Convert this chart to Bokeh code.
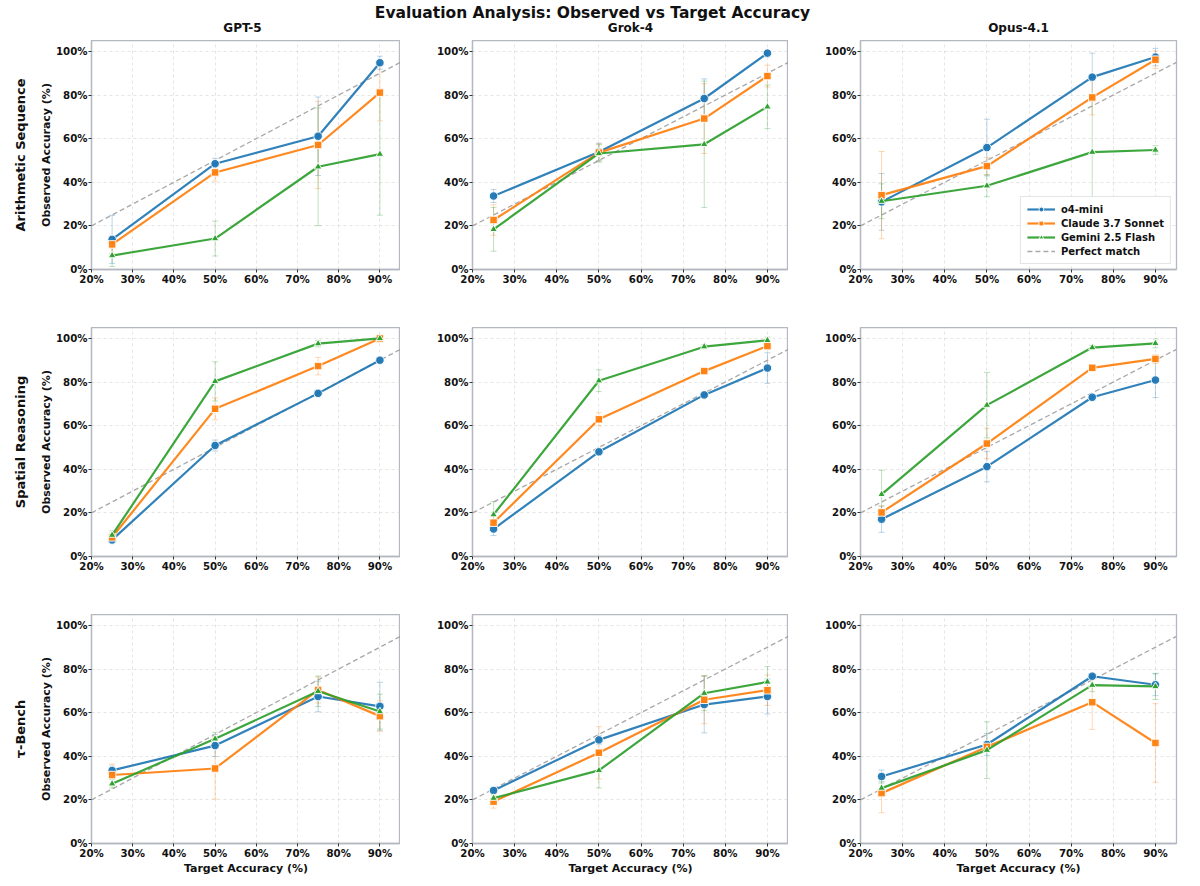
from bokeh.plotting import figure
from bokeh.models import (Range1d, FixedTicker, PrintfTickFormatter, Title, Legend,
                          LegendItem, ColumnDataSource, Whisker, TeeHead)
from bokeh.layouts import column, row
from bokeh.embed import file_html
from bokeh.resources import INLINE
from bokeh.core.properties import value

# ---------------- data (percent) ----------------
targets = [25, 50, 75, 90]
models = ["o4-mini", "Claude 3.7 Sonnet", "Gemini 2.5 Flash"]
tasks = ["Arithmetic Sequence", "Spatial Reasoning", "τ-Bench"]
judges = ["GPT-5", "Grok-4", "Opus-4.1"]
x_ticks = [20, 30, 40, 50, 60, 70, 80, 90]
y_ticks = [0, 20, 40, 60, 80, 100]

# Arithmetic Sequence
arith_gpt5 = {"o4-mini": [13.8, 48.5, 61.1, 94.8],
              "Claude 3.7 Sonnet": [11.5, 44.5, 57.1, 81.1],
              "Gemini 2.5 Flash": [6.4, 14.2, 47.1, 52.9]}
arith_gpt5_err = {"o4-mini": [11, 2.5, 18, 3],
                  "Claude 3.7 Sonnet": [4, 4, 20, 13],
                  "Gemini 2.5 Flash": [5, 8, 27, 28]}
arith_grok4 = {"o4-mini": [33.7, 53.9, 78.4, 99.2],
               "Claude 3.7 Sonnet": [22.7, 53.6, 69.2, 88.7],
               "Gemini 2.5 Flash": [18.4, 53.2, 57.4, 74.6]}
arith_grok4_err = {"o4-mini": [3, 4, 9, 1],
                   "Claude 3.7 Sonnet": [7, 4, 16, 5],
                   "Gemini 2.5 Flash": [10, 4, 29, 10]}
arith_opus = {"o4-mini": [31.0, 55.9, 88.2, 97.4],
              "Claude 3.7 Sonnet": [34.1, 47.4, 78.9, 96.2],
              "Gemini 2.5 Flash": [31.3, 38.4, 53.8, 54.8]}
arith_opus_err = {"o4-mini": [13, 13, 11, 4],
                  "Claude 3.7 Sonnet": [20, 4, 8, 4],
                  "Gemini 2.5 Flash": [8, 5, 24, 2]}

# Spatial Reasoning
spatial_gpt5 = {"o4-mini": [7.6, 50.9, 74.8, 90.0],
                "Claude 3.7 Sonnet": [8.8, 67.7, 87.3, 100.0],
                "Gemini 2.5 Flash": [9.8, 80.3, 97.6, 100.0]}
spatial_gpt5_err = {"o4-mini": [1.5, 2.5, 1, 1],
                    "Claude 3.7 Sonnet": [2, 5, 4, 0.5],
                    "Gemini 2.5 Flash": [2, 9, 1.5, 0.5]}
spatial_grok4 = {"o4-mini": [12.6, 48.0, 74.1, 86.4],
                 "Claude 3.7 Sonnet": [15.5, 62.9, 85.0, 96.5],
                 "Gemini 2.5 Flash": [19.2, 80.6, 96.2, 99.1]}
spatial_grok4_err = {"o4-mini": [3, 1.5, 1, 7],
                     "Claude 3.7 Sonnet": [3, 3, 1, 1.5],
                     "Gemini 2.5 Flash": [6, 5, 1, 1.5]}
spatial_opus = {"o4-mini": [17.1, 41.2, 73.0, 80.9],
                "Claude 3.7 Sonnet": [20.2, 51.8, 86.5, 90.6],
                "Gemini 2.5 Flash": [28.5, 69.4, 95.8, 97.7]}
spatial_opus_err = {"o4-mini": [6, 7, 1, 8],
                    "Claude 3.7 Sonnet": [3, 7, 1, 2],
                    "Gemini 2.5 Flash": [11, 15, 1, 2]}

# tau-Bench
tau_gpt5 = {"o4-mini": [33.5, 44.9, 67.4, 62.9],
            "Claude 3.7 Sonnet": [31.4, 34.4, 70.4, 58.4],
            "Gemini 2.5 Flash": [27.4, 48.0, 69.8, 60.5]}
tau_gpt5_err = {"o4-mini": [2, 5, 7, 11],
                "Claude 3.7 Sonnet": [5, 14, 6, 7],
                "Gemini 2.5 Flash": [2, 3, 7, 8]}
tau_grok4 = {"o4-mini": [24.3, 47.5, 63.7, 67.4],
             "Claude 3.7 Sonnet": [19.2, 41.6, 65.9, 70.3],
             "Gemini 2.5 Flash": [20.8, 33.5, 68.9, 74.1]}
tau_grok4_err = {"o4-mini": [1, 2, 13, 8],
                 "Claude 3.7 Sonnet": [3, 12, 11, 7],
                 "Gemini 2.5 Flash": [2, 8, 8, 7]}
tau_opus = {"o4-mini": [30.7, 45.4, 76.7, 72.8],
            "Claude 3.7 Sonnet": [23.1, 44.3, 64.8, 46.1],
            "Gemini 2.5 Flash": [25.4, 42.8, 72.6, 72.0]}
tau_opus_err = {"o4-mini": [3, 5, 1, 5],
                "Claude 3.7 Sonnet": [9, 2, 12.5, 18],
                "Gemini 2.5 Flash": [3, 13, 3, 6]}

panel_values = [[arith_gpt5, arith_grok4, arith_opus],
                [spatial_gpt5, spatial_grok4, spatial_opus],
                [tau_gpt5, tau_grok4, tau_opus]]
panel_errors = [[arith_gpt5_err, arith_grok4_err, arith_opus_err],
                [spatial_gpt5_err, spatial_grok4_err, spatial_opus_err],
                [tau_gpt5_err, tau_grok4_err, tau_opus_err]]

# ---------------- styling ----------------
FONT = "DejaVu Sans"
colors = {"o4-mini": "#1f77b4", "Claude 3.7 Sonnet": "#ff7f0e", "Gemini 2.5 Flash": "#2ca02c"}
markers = {"o4-mini": "circle", "Claude 3.7 Sonnet": "square", "Gemini 2.5 Flash": "triangle"}
msizes = {"o4-mini": 8.5, "Claude 3.7 Sonnet": 7.5, "Gemini 2.5 Flash": 7.5}
FRAME_COLOR = "#b4b8c0"

FRAME_W, FRAME_H = 316, 229
col_left = [84, 72, 72]
col_right = [0, 0, 8]
row_bottom = [58, 58, 35]
HEADER_H = 40


def make_panel(r, c):
    p = figure(width=col_left[c] + FRAME_W + col_right[c],
               height=FRAME_H + row_bottom[r],
               x_range=Range1d(20, 95), y_range=Range1d(0, 105),
               output_backend="svg", toolbar_location=None,
               min_border_left=col_left[c], min_border_right=col_right[c],
               min_border_top=0, min_border_bottom=row_bottom[r])
    p.background_fill_color = "white"
    p.border_fill_color = "white"
    p.outline_line_color = FRAME_COLOR
    p.outline_line_width = 1.3

    p.xaxis.ticker = FixedTicker(ticks=x_ticks)
    p.yaxis.ticker = FixedTicker(ticks=y_ticks)
    p.xaxis.formatter = PrintfTickFormatter(format="%d%%")
    p.yaxis.formatter = PrintfTickFormatter(format="%d%%")
    for ax in (p.xaxis[0], p.yaxis[0]):
        ax.axis_line_color = FRAME_COLOR
        ax.axis_line_width = 1.3
        ax.major_tick_line_color = "#333333"
        ax.major_tick_line_width = 1
        ax.major_tick_out = 3
        ax.major_tick_in = 0
        ax.minor_tick_line_color = None
        ax.major_label_text_font = FONT
        ax.major_label_text_font_style = "bold"
        ax.major_label_text_font_size = "10.2px"
        ax.major_label_text_color = "#111111"
        ax.major_label_standoff = 1
        ax.axis_label_text_font = FONT
        ax.axis_label_text_font_style = "bold"
        ax.axis_label_text_font_size = "11px"
        ax.axis_label_text_color = "#111111"
        ax.axis_label_standoff = 0

    for g in (p.xgrid[0], p.ygrid[0]):
        g.grid_line_color = "#c8c8c8"
        g.grid_line_alpha = 0.6
        g.grid_line_dash = "3 3"
        g.grid_line_width = 0.8

    if c == 0:
        p.yaxis.axis_label = "Observed Accuracy (%)"
        t = Title(text=tasks[r], align="center", text_font=FONT,
                  text_font_size="13px", text_font_style="bold",
                  text_color="#111111", standoff=20)
        p.add_layout(t, "left")
    if r == 2:
        p.xaxis.axis_label = "Target Accuracy (%)"

    # perfect match diagonal
    perfect = p.line([20, 95], [20, 95], line_color="#999999", line_alpha=0.85,
                     line_width=1.3, line_dash="5 3")

    vals = panel_values[r][c]
    errs = panel_errors[r][c]
    items = []
    for m in models:
        y = vals[m]
        e = errs[m]
        src = ColumnDataSource(dict(x=targets, y=y,
                                    lo=[a - b for a, b in zip(y, e)],
                                    hi=[a + b for a, b in zip(y, e)]))
        w = Whisker(base="x", lower="lo", upper="hi", source=src, level="underlay",
                    line_color=colors[m], line_alpha=0.3, line_width=1,
                    upper_head=TeeHead(size=6, line_color=colors[m], line_alpha=0.3, line_width=1),
                    lower_head=TeeHead(size=6, line_color=colors[m], line_alpha=0.3, line_width=1))
        p.add_layout(w)
        ln = p.line("x", "y", source=src, line_color=colors[m], line_width=2.2, line_alpha=0.92)
        sc = p.scatter("x", "y", source=src, marker=markers[m], size=msizes[m],
                       fill_color=colors[m], line_color="white", line_width=0.9, fill_alpha=0.95)
        items.append(LegendItem(label=m, renderers=[ln, sc]))
    items.append(LegendItem(label="Perfect match", renderers=[perfect]))

    if r == 0 and c == 2:
        leg = Legend(items=items, location="bottom_right")
        leg.label_text_font = FONT
        leg.label_text_font_style = "bold"
        leg.label_text_font_size = "10px"
        leg.label_text_color = "#111111"
        leg.glyph_width = 28
        leg.glyph_height = 12
        leg.label_height = 12
        leg.spacing = 2
        leg.padding = 6
        leg.margin = 5
        leg.label_standoff = 6
        leg.border_line_color = "#cccccc"
        leg.border_line_width = 1
        leg.background_fill_alpha = 0.9
        p.add_layout(leg)
    return p


# ---------------- header (main title + column titles) ----------------
TOTAL_W = sum(col_left) + 3 * FRAME_W + sum(col_right)
header = figure(width=TOTAL_W, height=HEADER_H, x_range=Range1d(0, TOTAL_W),
                y_range=Range1d(0, HEADER_H), output_backend="svg", toolbar_location=None,
                min_border=0, x_axis_type=None, y_axis_type=None, title=None)
header.outline_line_color = None
header.grid.visible = False
header.text(x=[TOTAL_W / 2], y=[HEADER_H - 12], text=["Evaluation Analysis: Observed vs Target Accuracy"],
            text_font=value(FONT), text_font_style="bold", text_font_size="15.5px",
            text_align="center", text_baseline="middle", text_color="#111111")
col_centers = []
acc = 0
for c in range(3):
    col_centers.append(acc + col_left[c] + FRAME_W / 2)
    acc += col_left[c] + FRAME_W + col_right[c]
header.text(x=col_centers, y=[HEADER_H - 27] * 3, text=judges,
            text_font=value(FONT), text_font_style="bold", text_font_size="12px",
            text_align="center", text_baseline="middle", text_color="#111111")

rows = [row(*[make_panel(r, c) for c in range(3)]) for r in range(3)]
layout = column(header, *rows)

open("out.html", "w").write(file_html(layout, INLINE))
